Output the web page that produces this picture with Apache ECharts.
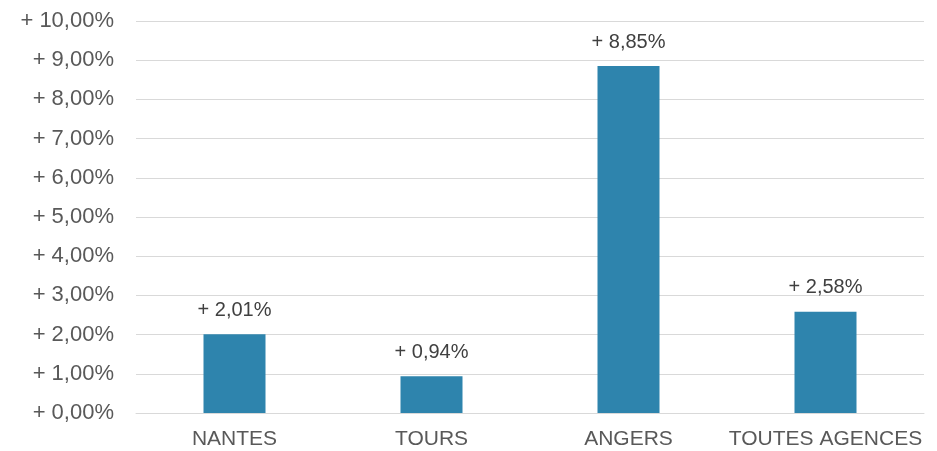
<!DOCTYPE html>
<html>
<head>
<meta charset="utf-8">
<script src="https://cdn.jsdelivr.net/npm/echarts@6/dist/echarts.min.js"></script>
<style>
  html, body { margin: 0; padding: 0; background: #fff; }
  #chart { width: 937px; height: 451px; }
</style>
</head>
<body>
<div id="chart"></div>
<script>
// Évolution par agence
const categories = ['NANTES', 'TOURS', 'ANGERS', 'TOUTES AGENCES'];
const values = [2.01, 0.94, 8.85, 2.58];

function fmt(v, digits) {
  return '+ ' + v.toFixed(digits).replace('.', ',') + '%';
}

const chart = echarts.init(document.getElementById('chart'));
chart.setOption({
  animation: false,
  grid: { left: 136, right: 13, top: 21, bottom: 38 },
  xAxis: {
    type: 'category',
    data: categories,
    axisLine: { show: true, lineStyle: { color: '#d9d9d9', width: 1 } },
    axisTick: { show: false },
    axisLabel: {
      interval: 0,
      color: '#595959',
      fontFamily: 'Liberation Sans',
      fontSize: 21,
      margin: 16
    }
  },
  yAxis: {
    type: 'value',
    min: 0,
    max: 10,
    interval: 1,
    axisLine: { show: false },
    axisTick: { show: false },
    splitLine: { lineStyle: { color: '#d9d9d9', width: 1 } },
    axisLabel: {
      color: '#595959',
      fontFamily: 'Liberation Sans',
      fontSize: 22,
      margin: 22,
      formatter: v => fmt(v, 2)
    }
  },
  series: [{
    type: 'bar',
    data: values,
    barWidth: 62,
    itemStyle: { color: '#2e84ad' },
    label: {
      show: true,
      position: 'top',
      distance: 14,
      color: '#404040',
      fontFamily: 'Liberation Sans',
      fontSize: 20,
      formatter: p => fmt(p.value, 2)
    }
  }]
});
</script>
</body>
</html>
